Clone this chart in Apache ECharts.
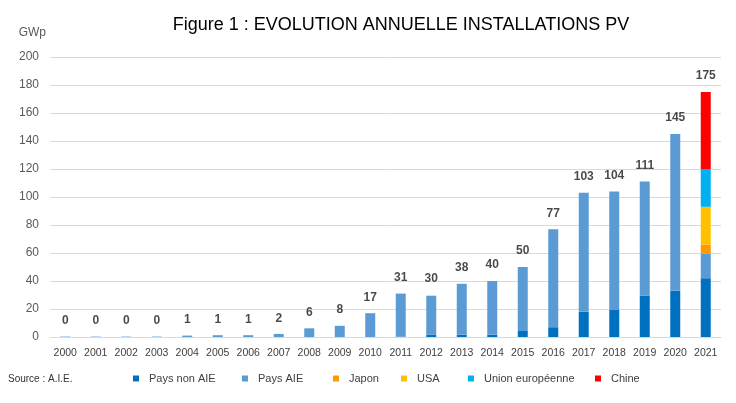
<!DOCTYPE html>
<html><head><meta charset="utf-8">
<script src="https://cdn.jsdelivr.net/npm/echarts@6/dist/echarts.min.js"></script>
<style>html,body{margin:0;padding:0;background:#fff}#c{width:736px;height:403px}</style>
</head><body><div id="c"></div>
<script>
const years = ['2000','2001','2002','2003','2004','2005','2006','2007','2008','2009','2010','2011','2012','2013','2014','2015','2016','2017','2018','2019','2020','2021'];
const paysNonAie = [0,0,0,0,0,0,0,0,0,0,0,0.3,1.6,1.7,1.7,4.3,7,18,19.3,29.5,33,42];
const paysAie = [0.3,0.3,0.3,0.3,1,1.3,1.3,2.2,6.2,8,17,30.7,27.9,36.3,38.3,45.7,70,85,84.7,81.5,112,17.5];
const japon = [null,null,null,null,null,null,null,null,null,null,null,null,null,null,null,null,null,null,null,null,null,6.5];
const usa = [null,null,null,null,null,null,null,null,null,null,null,null,null,null,null,null,null,null,null,null,null,27];
const unionEuropeenne = [null,null,null,null,null,null,null,null,null,null,null,null,null,null,null,null,null,null,null,null,null,27];
const chine = [null,null,null,null,null,null,null,null,null,null,null,null,null,null,null,null,null,null,null,null,null,55];
const totalLabels = [0,0,0,0,1,1,1,2,6,8,17,31,30,38,40,50,77,103,104,111,145,175];
const yTicks = [0,20,40,60,80,100,120,140,160,180,200];
const seriesNames = ['Pays non AIE','Pays AIE','Japon','USA','Union européenne','Chine'];
const seriesColors = ['#0070C0','#5B9BD5','#FF9900','#FFC000','#00B0F0','#FF0000'];
const seriesData = [paysNonAie, paysAie, japon, usa, unionEuropeenne, chine];

const chart = echarts.init(document.getElementById('c'));
const legendLefts = [133, 242, 333, 401, 468, 595];
chart.setOption({
  animation:false,
  title:{text:'Figure 1 : EVOLUTION ANNUELLE INSTALLATIONS PV', left:396, top:11, textAlign:'center',
    textStyle:{fontFamily:'Liberation Sans', fontSize:18, fontWeight:'normal', color:'#000'}},
  grid:{left:50, right:15, top:57, bottom:66},
  legend: seriesNames.map((n,i)=>({left:legendLefts[i], top:373, padding:0, itemWidth:6, itemHeight:6, icon:'rect', itemGap:0,
    textStyle:{fontFamily:'Liberation Sans', fontSize:11, color:'#404040', padding:[0,0,0,5]},
    data:[n]})),
  graphic:[{type:'text', left:8, top:374, style:{text:'Source : A.I.E.', font:"10px 'Liberation Sans'", fill:'#333'}}],
  xAxis:{type:'category', data:years, axisTick:{show:false},
    axisLine:{lineStyle:{color:'#d9d9d9'}},
    axisLabel:{fontFamily:'Liberation Sans', fontSize:10.5, color:'#404040', margin:11, interval:0}},
  yAxis:{type:'value', min:yTicks[0], max:yTicks[yTicks.length-1], interval:20,
    name:'GWp', nameLocation:'end', nameGap:18,
    nameTextStyle:{fontFamily:'Liberation Sans', fontSize:12, color:'#595959', align:'right', padding:[0,4,0,0]},
    axisLabel:{fontFamily:'Liberation Sans', fontSize:12, color:'#595959', margin:11},
    splitLine:{lineStyle:{color:'#d9d9d9'}}},
  series: seriesNames.map((n,i)=>({name:n, type:'bar', stack:'s', data:seriesData[i], barWidth:10,
      itemStyle:{color:seriesColors[i]}, emphasis:{disabled:true}})).concat([
    {name:'total', type:'scatter', data:totalLabels, symbolSize:0, silent:true,
     label:{show:true, position:'top', distance:10, fontFamily:'Liberation Sans', fontSize:12, fontWeight:'bold', color:'#1a1a1a'}}
  ])
});
</script></body></html>
